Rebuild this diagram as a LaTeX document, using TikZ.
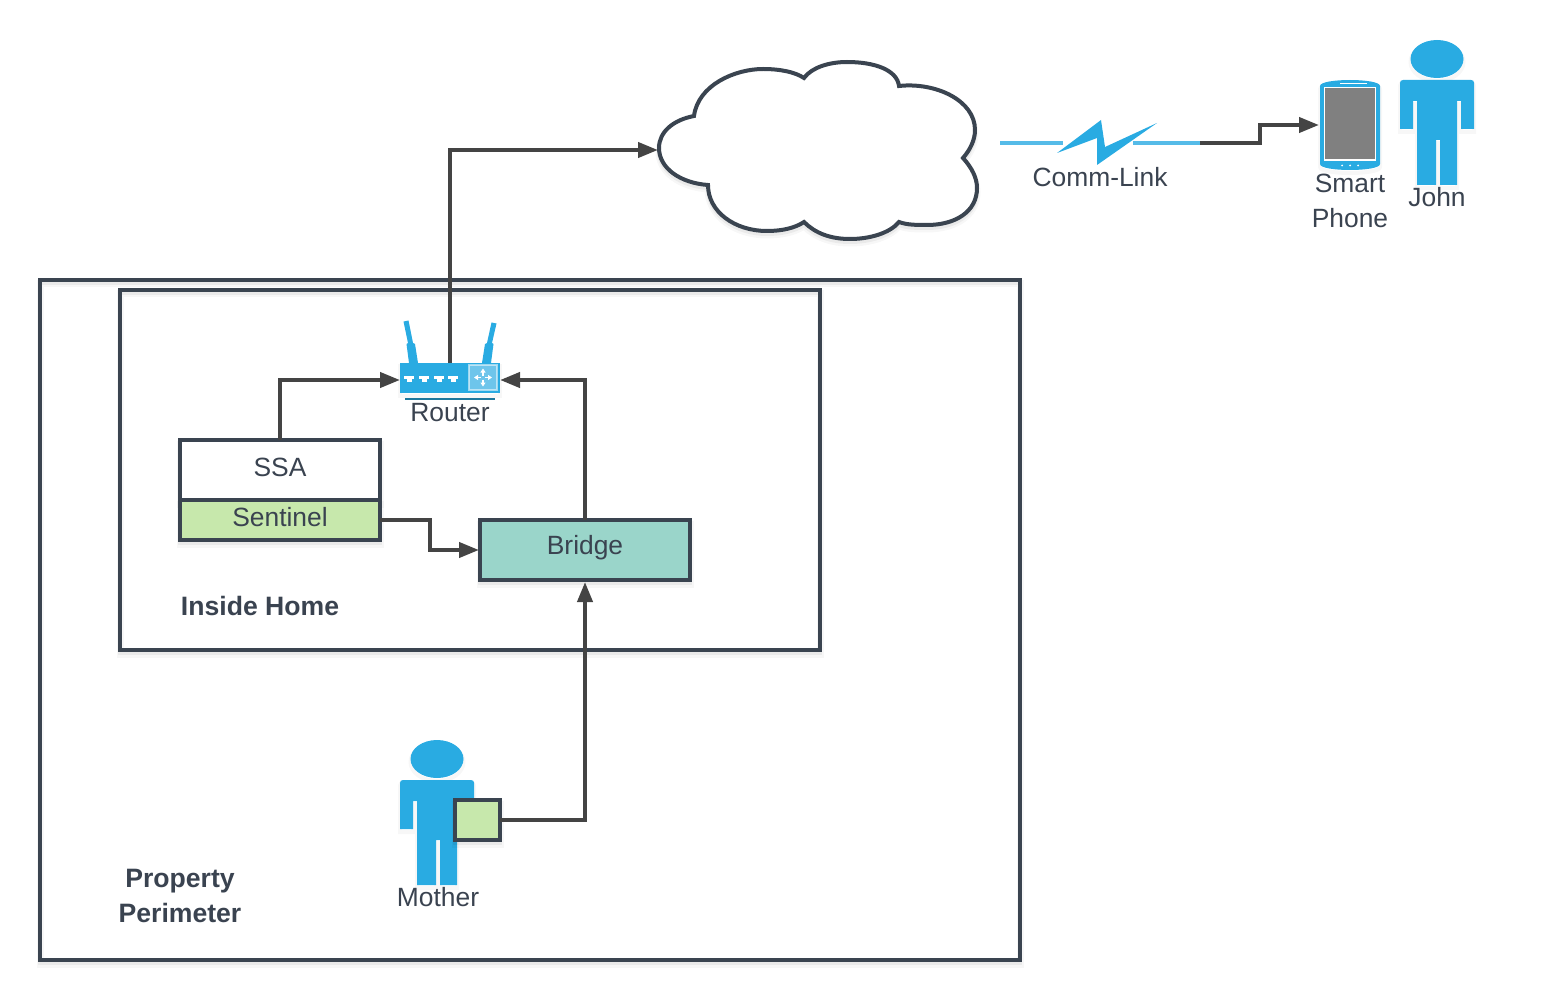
\documentclass[tikz,border=0pt]{standalone}
\usepackage{fontspec}
\setmainfont{Liberation Sans}
\usetikzlibrary{arrows.meta,calc}
\definecolor{ink}{HTML}{3A4450}
\definecolor{txt}{HTML}{3A4350}
\definecolor{conn}{HTML}{444444}
\definecolor{blu}{HTML}{29ABE2}
\definecolor{lblu}{HTML}{55BBE8}
\definecolor{grn}{HTML}{C7E8AC}
\definecolor{teal2}{HTML}{9AD5CA}
\tikzset{
  softshadow/.style={
    preaction={draw=black,draw opacity=.03,line width=7pt,transform canvas={yshift=-4pt}},
    preaction={draw=black,draw opacity=.05,line width=4pt,transform canvas={yshift=-3pt}}},
  frame/.style={draw=ink,line width=4pt,inner sep=0pt,outer sep=0pt,softshadow},
  lab/.style={text=txt,font=\fontsize{26.4}{35}\selectfont,align=center,inner sep=0pt},
  blab/.style={text=txt,font=\fontsize{26.6}{35}\selectfont\bfseries,align=center,inner sep=0pt},
  conn/.style={draw=conn,line width=4pt,-{Triangle[length=20pt,width=15pt]},line join=miter},
  hidden/.style={inner sep=0pt,outer sep=0pt},
  pics/person/.style={code={
    \fill[blu,preaction={draw=black,draw opacity=.03,line width=4pt,transform canvas={yshift=-3pt}}]
      (37,19) ellipse [x radius=26.5pt,y radius=19pt];
    \fill[blu,preaction={draw=black,draw opacity=.03,line width=4pt,transform canvas={yshift=-3pt}}]
      (3,40) -- (71,40) .. controls (73,40) and (74,41) .. (74,43) -- (74,89) -- (61,89) -- (61,61) -- (57,61) -- (57,145) -- (40,145) -- (40,100) -- (36,100) -- (36,145) -- (17,145) -- (17,61) -- (13,61) -- (13,89) -- (0,89) -- (0,43) .. controls (0,41) and (1,40) .. (3,40) -- cycle;
  }}
}
\begin{document}
\begin{tikzpicture}[x=1pt,y=-1pt]
\useasboundingbox (0,0) rectangle (1545,1000);
% frames
\node[frame,minimum width=980pt,minimum height=680pt] (perim) at (530,620) {};
\node[frame,minimum width=700pt,minimum height=360pt] (home) at (470,470) {};
% cloud
\draw[ink,line width=4pt,fill=white,softshadow]
 (694,116) .. controls (698,85) and (735,69) .. (763,69) .. controls (780,69) and (795,72) .. (804,78)
 .. controls (812,67) and (830,62) .. (847,62) .. controls (875,62) and (897,70) .. (899,86)
 .. controls (935,82) and (975,100) .. (975,130) .. controls (975,140) and (970,150) .. (963,158)
 .. controls (972,168) and (977,178) .. (977,188) .. controls (977,212) and (955,225) .. (927,225)
 .. controls (917,225) and (907,225) .. (899,222)
 .. controls (890,233) and (870,239) .. (850,239) .. controls (830,239) and (815,233) .. (804,222)
 .. controls (795,228) and (782,231) .. (767,231) .. controls (735,231) and (708,212) .. (708,185)
 .. controls (680,183) and (659,168) .. (659,148) .. controls (659,132) and (673,120) .. (694,116) -- cycle;
\coordinate (cloudw) at (658,150);
% boxes
\node[frame,fill=white,minimum width=200pt,minimum height=60pt] (ssa) at (280,470) {};
\node[frame,fill=grn,minimum width=200pt,minimum height=40pt] (sentinel) at (280,520) {};
\node[frame,fill=teal2,minimum width=210pt,minimum height=60pt] (bridge) at (585,550) {};
\node[lab] (ssat) at (280,467) {SSA};
\node[lab] (sentt) at (280,517.5) {Sentinel};
\node[lab] (bridget) at (585,547.5) {Bridge};
% router
\node[hidden,minimum width=100pt,minimum height=30pt] (router) at (450,380) {};
\coordinate (m1) at (430,535);
\coordinate (m2) at (1260,134);
\coordinate (commr) at (1200,143);
\coordinate (phonew) at (1319,125);
% connectors
\draw[conn] (router.north) |- (cloudw);
\draw[conn] (ssa.north) |- (router.west);
\draw[conn] (bridge.north) |- (router.east);
\draw[conn] (sentinel.east) -| (m1) |- ($(bridge.west)+(-1,0)$);
% router icon
\fill[blu,preaction={draw=black,draw opacity=.03,line width=4pt,transform canvas={yshift=-3pt}}] (400,363) rectangle (500,393);
\fill[blu] (403.5,321.5) -- (408.5,320.5) -- (413,343) -- (415,344) -- (418,363) -- (409,363) -- (406.5,344) -- (408,343) -- cycle;
\fill[blu] (496.5,323.5) -- (491.5,322.5) -- (487,343) -- (485,344) -- (482,363) -- (491,363) -- (493.5,344) -- (492,343) -- cycle;
\foreach \px in {409,424,439,453}{
  \fill[white] (\px-5,376) rectangle (\px+5,379);
  \fill[white] (\px-2.5,379) rectangle (\px+2.5,381.5);
}
\draw[fill=lblu!85!white,draw=white,draw opacity=.55,line width=1.2pt] (469,365) rectangle (497,390);
\foreach \sx/\sy in {0/-1,0/1,1/0,-1/0}{
  \draw[white,line width=1.6pt,-{Triangle[length=4pt,width=5pt]}] ({483+2*\sx},{377.5+2*\sy}) -- ({483+9*\sx},{377.5+9*\sy});
}
\draw[blu!70!black,line width=2pt] (405,398.5) -- (495,398.5);
\node[lab] (routert) at (450,412.5) {Router};
% mother
\pic at (400,740) {person};
\node[frame,fill=grn,minimum width=45pt,minimum height=40pt] (tablet) at (477.5,820) {};
\draw[conn] (tablet.east) -| ($(bridge.south)+(0,2)$);
\node[lab] (mothert) at (438,897) {Mother};
% labels
\node[blab] (insidet) at (260,606) {Inside Home};
\node[blab] (perimt) at (180,895.5) {Property\\Perimeter};
% comm link
\coordinate (commlw) at (1000,143);
\coordinate (commle) at (1063,143);
\coordinate (commrs) at (1133,143.5);
\draw[lblu,line width=4pt] (commlw) -- (commle);
\draw[lblu,line width=4pt] (commrs) -- (1200,143.5);
\fill[blu] (1057,153) -- (1101,120) -- (1105,147) -- (1157,123) -- (1097,165) -- (1097,138) -- cycle;
\node[lab] (commt) at (1100,177) {Comm-Link};
\draw[conn] (commr) -| (m2) |- (phonew);
% phone
\node[hidden,minimum width=60pt,minimum height=90pt] (phone) at (1350,125) {};
\fill[blu,preaction={draw=black,draw opacity=.03,line width=4pt,transform canvas={yshift=-3pt}}]
  (1320,86) .. controls (1320,82) and (1335,80) .. (1350,80) .. controls (1365,80) and (1380,82) .. (1380,86)
  -- (1380,164) .. controls (1380,168) and (1365,170) .. (1350,170) .. controls (1335,170) and (1320,168) .. (1320,164) -- cycle;
\draw[fill=gray,draw=white,line width=1.2pt] (1324.5,87.5) rectangle (1375.5,160);
\draw[white,line width=1pt] (1340,83.5) -- (1367,83.5);
\foreach \dx in {1342,1350,1358}{\fill[white] (\dx,165.5) circle (1pt);}
\node[lab] (phonet) at (1350,201) {Smart\\Phone};
% john
\pic at (1400,40) {person};
\node[lab] (johnt) at (1437,197.5) {John};
\end{tikzpicture}
\end{document}
